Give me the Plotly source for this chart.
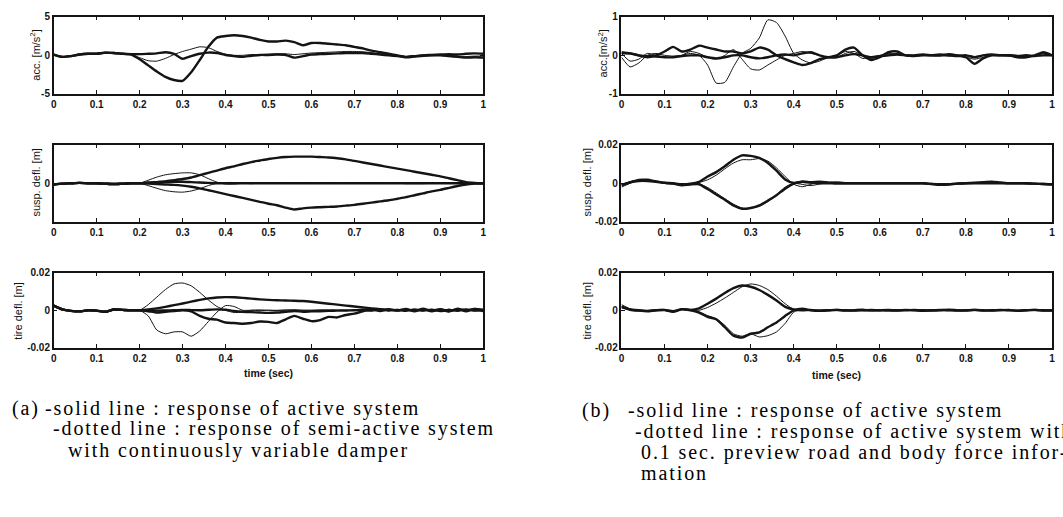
import plotly.graph_objects as go

W, H = 1063, 517

# time grid (s)
t = [round(i * 0.02, 2) for i in range(51)]

# ---------------- (a) left column ----------------
# body acceleration [m/s^2]
acc_a_semi = [0.1, -0.2, -0.1, 0.1, 0.2, 0.2, 0.35, 0.3, 0.2, 0.1,
              -0.5, -1.3, -2.1, -2.8, -3.2, -3.3, -2.2, -0.6, 1.1, 2.3,
              2.5, 2.6, 2.5, 2.3, 2.0, 1.8, 1.8, 1.9, 1.7, 1.3,
              1.6, 1.6, 1.5, 1.4, 1.3, 1.1, 0.9, 0.6, 0.4, 0.2,
              0.0, -0.25, -0.15, -0.05, 0.0, 0.0, -0.1, -0.2, -0.3, -0.25, -0.3]
acc_a_act = [0.1, -0.2, -0.1, 0.1, 0.2, 0.2, 0.35, 0.3, 0.2, 0.15,
             0.15, 0.2, 0.25, 0.4, 0.2, -0.45, -0.1, 0.2, 0.35, 0.3,
             0.05, -0.1, -0.2, -0.05, 0.05, 0.05, 0.1, 0.05, -0.3, -0.1,
             0.1, 0.15, 0.2, 0.25, 0.3, 0.3, 0.3, 0.2, 0.1, 0.0,
             -0.1, -0.2, -0.1, 0.0, 0.05, 0.1, 0.15, 0.1, 0.2, 0.25, 0.2]
acc_a_thin = [0.1, -0.2, -0.1, 0.1, 0.2, 0.2, 0.35, 0.3, 0.2, 0.1,
              -0.3, -0.7, -0.75, -0.4, 0.1, 0.5, 0.8, 1.1, 1.0, 0.5,
              0.15, 0.0, 0.0, 0.1, 0.1, 0.15, 0.2, 0.2, 0.1, 0.2,
              0.3, 0.35, 0.4, 0.45, 0.5, 0.5, 0.45, 0.35, 0.2, 0.1,
              0.0, -0.15, -0.05, 0.05, 0.1, 0.1, 0.0, -0.1, -0.15, -0.1, -0.1]

# suspension deflection [m]
susp_a_up = [-0.003, -0.001, 0.0, 0.001, 0.0, 0.0, -0.001, -0.002, -0.001, 0.0,
             0.0, 0.001, 0.003, 0.005, 0.008, 0.011, 0.015, 0.021, 0.027, 0.033,
             0.039, 0.044, 0.050, 0.055, 0.059, 0.063, 0.066, 0.068, 0.069, 0.069,
             0.069, 0.068, 0.067, 0.065, 0.062, 0.058, 0.054, 0.050, 0.046, 0.042,
             0.038, 0.034, 0.030, 0.026, 0.022, 0.018, 0.013, 0.008, 0.003, 0.001, 0.0]
susp_a_lo = [-0.003, -0.001, 0.0, 0.001, 0.0, 0.0, -0.001, -0.002, -0.001, 0.0,
             0.0, -0.001, -0.002, -0.003, -0.004, -0.006, -0.009, -0.013, -0.018, -0.023,
             -0.028, -0.033, -0.038, -0.043, -0.048, -0.053, -0.057, -0.063, -0.068, -0.065,
             -0.063, -0.062, -0.061, -0.060, -0.058, -0.056, -0.053, -0.050, -0.047, -0.044,
             -0.040, -0.036, -0.031, -0.026, -0.021, -0.017, -0.012, -0.007, -0.003, -0.001, 0.0]
susp_a_mid = [-0.003, -0.001, 0.0, 0.001, 0.0, 0.0, -0.001, -0.002, -0.001, 0.0,
              0.0, 0.002, 0.003, 0.004, 0.004, 0.004, 0.003, 0.002, 0.001, 0.0,
              0.0, 0.0, 0.0, 0.0, 0.0, 0.0, 0.0, 0.0, 0.0, 0.0,
              0.0, 0.0, 0.0, 0.0, 0.0, 0.0, 0.0, 0.0, 0.0, 0.0,
              0.0, 0.0, 0.0, 0.0, 0.0, 0.0, 0.0, 0.0, 0.0, 0.0, 0.0]
susp_a_thin_up = [-0.003, -0.001, 0.0, 0.001, 0.0, 0.0, -0.001, -0.002, -0.001, 0.0,
                  0.0, 0.008, 0.016, 0.022, 0.025, 0.027, 0.027, 0.022, 0.012, 0.003,
                  -0.002, -0.002, 0.0, 0.001, 0.0, 0.0, 0.0, 0.0, 0.0, 0.0,
                  0.0, 0.0, 0.0, 0.0, 0.0, 0.0, 0.0, 0.0, 0.0, 0.0,
                  0.0, 0.001, 0.002, 0.002, 0.001, 0.0, 0.0, 0.0, 0.0, 0.0, 0.0]
susp_a_thin_lo = [-0.003, -0.001, 0.0, 0.001, 0.0, 0.0, -0.001, -0.002, -0.001, 0.0,
                  0.0, -0.006, -0.013, -0.019, -0.022, -0.023, -0.020, -0.014, -0.006, 0.0,
                  0.002, 0.002, 0.0, -0.001, 0.0, 0.0, 0.0, 0.0, 0.0, 0.0,
                  0.0, 0.0, 0.0, 0.0, 0.0, 0.0, 0.0, 0.0, 0.0, 0.0,
                  0.0, -0.001, -0.001, -0.001, 0.0, 0.0, 0.0, 0.0, 0.0, 0.0, 0.0]

# tire deflection [m]
tire_a_thin_up = [0.0025, 0.0005, -0.0003, -0.0006, 0.0, -0.0002, -0.0008, 0.0004, 0.0002, 0.0,
                  0.0, 0.003, 0.007, 0.011, 0.014, 0.0145, 0.013, 0.0095, 0.0055, 0.002,
                  0.0, -0.0012, -0.001, 0.0, 0.0002, 0.0, -0.0002, 0.0, 0.0003, 0.0,
                  0.0, 0.0002, 0.0, 0.0, -0.0002, 0.0, 0.0003, 0.0, 0.0004, -0.0003,
                  0.0005, -0.0002, 0.0004, -0.0004, 0.0005, -0.0003, 0.0006, -0.0004, 0.0005, -0.0003, 0.0004]
tire_a_thin_lo = [0.0025, 0.0005, -0.0003, -0.0006, 0.0, -0.0002, -0.0008, 0.0004, 0.0002, 0.0,
                  0.0, -0.003, -0.0105, -0.0125, -0.0115, -0.0115, -0.0138, -0.011, -0.006, -0.001,
                  0.0025, 0.002, 0.0, 0.0, -0.0002, 0.0, 0.0, 0.0002, 0.0, 0.0,
                  0.0, 0.0, 0.0002, 0.0, 0.0, 0.0, 0.0, -0.0003, 0.0003, 0.0,
                  -0.0004, 0.0003, -0.0002, 0.0005, -0.0004, 0.0003, -0.0005, 0.0004, -0.0003, 0.0005, -0.0002]
tire_a_act = [0.0025, 0.0005, -0.0003, -0.0006, 0.0, -0.0002, -0.0008, 0.0004, 0.0002, 0.0,
              0.0, 0.0005, 0.001, 0.0018, 0.0027, 0.0036, 0.0046, 0.0055, 0.0063, 0.0068,
              0.007, 0.0069, 0.0066, 0.0062, 0.0058, 0.0055, 0.0053, 0.0052, 0.0051, 0.0049,
              0.0045, 0.004, 0.0035, 0.003, 0.0025, 0.002, 0.0015, 0.001, 0.0006, 0.0003,
              0.0, 0.0004, -0.0003, 0.0005, -0.0002, 0.0006, -0.0004, 0.0005, 0.0, 0.0007, 0.0003]
tire_a_semi = [0.0025, 0.0005, -0.0003, -0.0006, 0.0, -0.0002, -0.0008, 0.0004, 0.0002, 0.0,
               0.0, -0.0005, -0.0012, -0.0008, -0.0004, 0.0, -0.0006, -0.003, -0.0045, -0.005,
               -0.0065, -0.0068, -0.0072, -0.0068, -0.006, -0.0062, -0.0068, -0.0048, -0.003, -0.0045,
               -0.0058, -0.0052, -0.0035, -0.0038, -0.0025, -0.0018, -0.0005, 0.0005, -0.0004, 0.0006,
               -0.0002, 0.0007, -0.0005, 0.0008, -0.0006, 0.0004, -0.0007, 0.0008, -0.0006, 0.0007, -0.0005]
tire_a_mid = [0.0025, 0.0005, -0.0003, -0.0006, 0.0, -0.0002, -0.0008, 0.0004, 0.0002, 0.0,
              0.0, -0.0001, -0.0002, -0.0001, 0.0, 0.0002, 0.0001, 0.0, 0.0003, 0.0005,
              0.0003, -0.0004, -0.0008, -0.001, -0.0012, -0.0014, -0.0012, -0.0008, -0.0004, -0.0008,
              -0.0006, -0.0005, -0.0003, -0.0002, -0.0001, 0.0, 0.0002, -0.0002, 0.0003, -0.0001,
              0.0002, -0.0003, 0.0004, -0.0002, 0.0003, -0.0004, 0.0002, -0.0003, 0.0004, -0.0002, 0.0001]

# ---------------- (b) right column ----------------
acc_b_1 = [-0.05, -0.3, -0.2, 0.0, 0.05, 0.0, -0.02, 0.0, 0.05, 0.0,
           -0.25, -0.72, -0.7, -0.3, 0.05, 0.18, 0.45, 0.92, 0.85, 0.5,
           0.05, -0.12, -0.2, -0.15, -0.05, 0.0, 0.1, 0.05, -0.08, -0.05,
           0.0, 0.05, 0.02, 0.0, 0.0, 0.02, 0.0, -0.02, 0.0, 0.0,
           -0.05, -0.1, -0.05, 0.0, 0.0, 0.02, 0.0, -0.03, 0.0, 0.05, 0.0]
acc_b_2 = [0.05, -0.15, -0.1, 0.05, 0.0, -0.05, -0.05, 0.0, 0.1, 0.05,
           -0.05, -0.1, 0.0, 0.15, -0.1, -0.35, -0.38, -0.25, -0.12, 0.0,
           0.05, 0.1, 0.05, 0.0, -0.05, -0.05, 0.05, 0.1, 0.0, -0.08,
           -0.03, 0.02, 0.05, 0.0, -0.02, 0.0, 0.02, 0.0, -0.02, 0.0,
           0.0, -0.03, 0.0, 0.02, 0.0, -0.02, -0.04, -0.02, 0.0, 0.04, 0.02]
acc_b_3 = [0.05, 0.05, 0.0, -0.05, 0.0, 0.1, 0.22, 0.1, 0.15, 0.25,
           0.2, 0.15, 0.1, 0.1, 0.05, 0.1, 0.2, 0.15, 0.0, -0.1,
           -0.18, -0.25, -0.2, -0.1, -0.05, 0.0, 0.15, 0.2, 0.0, -0.12,
           -0.05, 0.08, 0.1, 0.0, 0.0, 0.02, 0.0, 0.0, 0.03, 0.0,
           -0.05, -0.22, -0.08, 0.0, 0.0, 0.0, -0.05, -0.05, 0.0, 0.08, 0.0]
acc_b_4 = [0.08, 0.05, 0.0, -0.02, -0.03, -0.05, -0.05, -0.02, 0.0, 0.0,
           -0.05, -0.08, -0.05, 0.0, 0.0, -0.05, -0.08, -0.05, 0.0, 0.02,
           0.0, 0.05, 0.08, 0.0, -0.05, -0.05, 0.0, 0.03, 0.0, -0.05,
           -0.02, 0.0, 0.02, 0.0, -0.02, 0.0, 0.0, 0.02, 0.0, -0.02,
           0.0, -0.05, 0.0, 0.02, 0.0, 0.0, -0.02, 0.0, -0.02, 0.0, 0.0]

susp_b_1 = [-0.001, 0.0005, 0.0018, 0.0018, 0.001, 0.0003, 0.0, -0.0005, -0.0002, 0.0008,
            0.0035, 0.0058, 0.0088, 0.0122, 0.0145, 0.0142, 0.0132, 0.0105, 0.0065, 0.002,
            0.0002, 0.0008, 0.0005, 0.0008, 0.0005, 0.0, 0.0, 0.0, 0.0, 0.0,
            0.0, 0.0, 0.0, 0.0, 0.0, 0.0, -0.0003, -0.0005, -0.0005, -0.0002,
            0.0, 0.0003, 0.0006, 0.0008, 0.0004, 0.0, 0.0, 0.0, -0.0002, -0.0004, -0.0005]
susp_b_2 = [-0.002, 0.0, 0.0015, 0.0012, 0.0008, 0.0002, -0.0002, -0.0008, -0.0004, 0.0004,
            0.0018, 0.0042, 0.0075, 0.0105, 0.0122, 0.0122, 0.0128, 0.0115, 0.008, 0.0035,
            -0.0005, -0.0018, -0.0005, 0.0005, 0.0002, 0.0, 0.0, 0.0, 0.0, 0.0,
            0.0, 0.0, 0.0, 0.0, 0.0, 0.0, -0.0002, -0.0004, -0.0003, 0.0,
            0.0, 0.0002, 0.0004, 0.0005, 0.0002, 0.0, 0.0, -0.0002, -0.0003, -0.0005, -0.0006]
susp_b_3 = [-0.001, 0.0005, 0.0012, 0.0012, 0.0008, 0.0002, -0.0002, -0.001, -0.0006, -0.0005,
            -0.003, -0.0058, -0.0085, -0.0115, -0.0132, -0.0128, -0.0115, -0.009, -0.0062, -0.0028,
            -0.0002, 0.0008, 0.0004, 0.0, 0.0, 0.0, 0.0, 0.0, 0.0, 0.0,
            0.0, 0.0, 0.0, 0.0, 0.0, 0.0, -0.0004, -0.0008, -0.0006, -0.0002,
            0.0, 0.0, 0.0, 0.0, 0.0, 0.0, 0.0, 0.0, -0.0002, -0.0004, -0.0006]
susp_b_4 = [-0.0005, 0.0008, 0.0015, 0.0015, 0.0009, 0.0004, 0.0, -0.0006, -0.0004, -0.0002,
            -0.0022, -0.005, -0.008, -0.0108, -0.0128, -0.013, -0.012, -0.0095, -0.0058, -0.002,
            0.0, -0.0006, -0.0012, -0.0004, 0.0004, 0.0008, 0.0004, 0.0, 0.0, 0.0,
            0.0, 0.0, 0.0, 0.0, 0.0, 0.0, -0.0002, -0.0004, -0.0004, 0.0,
            0.0, 0.0003, 0.0005, 0.0003, 0.0, 0.0, 0.0, -0.0002, -0.0002, -0.0004, -0.0005]

tire_b_1 = [0.002, 0.0005, 0.0, -0.0003, 0.0, 0.0002, -0.0005, 0.0006, 0.0002, 0.001,
            0.0035, 0.0062, 0.0092, 0.0118, 0.0132, 0.0125, 0.0108, 0.0082, 0.0052, 0.0018,
            0.0004, 0.0, 0.0002, -0.0003, 0.0, 0.0002, -0.0002, 0.0, 0.0003, -0.0002,
            0.0, 0.0002, -0.0002, 0.0, 0.0002, 0.0, -0.0002, 0.0, 0.0003, 0.0,
            -0.0002, 0.0002, 0.0, -0.0002, 0.0, 0.0002, -0.0003, 0.0, 0.0002, 0.0, -0.0002]
tire_b_2 = [0.003, 0.0008, -0.0002, -0.0004, 0.0002, 0.0, -0.0006, 0.0004, 0.0003, 0.0,
            0.0015, 0.0038, 0.0065, 0.0095, 0.0125, 0.014, 0.0132, 0.011, 0.0075, 0.0035,
            0.0005, 0.0, -0.0002, 0.0002, 0.0, -0.0002, 0.0, 0.0002, 0.0, 0.0,
            -0.0002, 0.0, 0.0002, 0.0, -0.0002, 0.0, 0.0002, 0.0, -0.0002, 0.0,
            0.0002, 0.0, -0.0002, 0.0, 0.0002, 0.0, -0.0002, 0.0002, 0.0, -0.0002, 0.0]
tire_b_3 = [0.0015, 0.0003, -0.0002, -0.0005, 0.0, 0.0001, -0.0008, 0.0005, 0.0, -0.0012,
            -0.0035, -0.0048, -0.009, -0.0135, -0.0145, -0.0125, -0.0118, -0.009, -0.0065, -0.003,
            0.0, 0.0008, 0.0, -0.0003, 0.0, 0.0002, 0.0, -0.0002, 0.0, 0.0002,
            0.0, -0.0002, 0.0, 0.0002, 0.0, -0.0003, 0.0, 0.0002, 0.0, -0.0002,
            0.0, 0.0002, -0.0002, 0.0, 0.0002, 0.0, -0.0002, 0.0, 0.0002, -0.0002, 0.0]
tire_b_4 = [0.002, 0.0004, 0.0, -0.0004, 0.0001, 0.0, -0.0006, 0.0004, 0.0001, -0.0008,
            -0.0028, -0.0045, -0.008, -0.0125, -0.0138, -0.0125, -0.0142, -0.0135, -0.0115, -0.007,
            -0.001, 0.0005, 0.0, -0.0002, 0.0, 0.0, 0.0002, 0.0, -0.0002, 0.0,
            0.0002, 0.0, -0.0002, 0.0, 0.0, 0.0002, 0.0, -0.0002, 0.0, 0.0002,
            0.0, -0.0002, 0.0, 0.0002, 0.0, -0.0002, 0.0, 0.0, -0.0002, 0.0, 0.0002]

x_ticks = [0, 0.1, 0.2, 0.3, 0.4, 0.5, 0.6, 0.7, 0.8, 0.9, 1]
x_ticktext = ["0", "0.1", "0.2", "0.3", "0.4", "0.5", "0.6", "0.7", "0.8", "0.9", "1"]

THICK, THIN = 2.4, 1.0
INK = "#141414"

panels = [
    (0, 0, [(acc_a_act, THICK), (acc_a_thin, THIN), (acc_a_semi, THICK)], [-5, 5], [-5, 0, 5], ["-5", "0", "5"]),
    (0, 1, [(susp_a_mid, THICK), (susp_a_thin_up, THIN), (susp_a_thin_lo, THIN), (susp_a_up, THICK), (susp_a_lo, THICK)],
     [-0.1, 0.1], [0], ["0"]),
    (0, 2, [(tire_a_mid, THICK), (tire_a_thin_up, THIN), (tire_a_thin_lo, THIN), (tire_a_act, THICK), (tire_a_semi, THICK)],
     [-0.02, 0.02], [-0.02, 0, 0.02], ["-0.02", "0", "0.02"]),
    (1, 0, [(acc_b_1, THIN), (acc_b_2, THIN), (acc_b_3, THICK), (acc_b_4, THICK)], [-1, 1], [-1, 0, 1], ["-1", "0", "1"]),
    (1, 1, [(susp_b_2, THIN), (susp_b_4, THIN), (susp_b_1, THICK), (susp_b_3, THICK)],
     [-0.02, 0.02], [-0.02, 0, 0.02], ["-0.02", "0", "0.02"]),
    (1, 2, [(tire_b_2, THIN), (tire_b_4, THIN), (tire_b_1, THICK), (tire_b_3, THICK)],
     [-0.02, 0.02], [-0.02, 0, 0.02], ["-0.02", "0", "0.02"]),
]

x_px = [(51, 483), (622, 1055)]
y_px = [(11, 90), (142, 221), (273, 350)]

fig = go.Figure()
layout = dict(
    width=W, height=H, margin=dict(l=0, r=0, t=0, b=0),
    paper_bgcolor="white", plot_bgcolor="white", showlegend=False,
)
tickfont = dict(family="Arial, Liberation Sans", size=10, color=INK, weight="bold")

for i, (col, row, series, yr, yt, ytt) in enumerate(panels):
    n = i + 1
    xa = "x" if n == 1 else f"x{n}"
    ya = "y" if n == 1 else f"y{n}"
    for y, w in series:
        fig.add_trace(go.Scatter(x=t, y=y, mode="lines", xaxis=xa, yaxis=ya,
                                 line=dict(color=INK, width=w, shape="spline", smoothing=0.6),
                                 hoverinfo="skip"))
    x0, x1 = x_px[col]
    y0, y1 = y_px[row]
    common = dict(showline=True, linecolor=INK, linewidth=1.5, mirror="ticks",
                  ticks="inside", ticklen=4, tickwidth=1, tickcolor=INK,
                  showgrid=False, zeroline=False, tickfont=tickfont)
    layout["xaxis" if n == 1 else f"xaxis{n}"] = dict(
        domain=[x0 / W, x1 / W], range=[0, 1], anchor=ya,
        tickmode="array", tickvals=x_ticks, ticktext=x_ticktext, **common)
    layout["yaxis" if n == 1 else f"yaxis{n}"] = dict(
        domain=[1 - y1 / H, 1 - y0 / H], range=yr, anchor=xa,
        tickmode="array", tickvals=yt, ticktext=ytt, **common)

fig.update_layout(**layout)

def ann(text, px, py, size, family, angle=0, xanchor="center", weight="normal", color=INK):
    fig.add_annotation(text=text, x=px / W, y=1 - py / H, xref="paper", yref="paper",
                       showarrow=False, textangle=angle, xanchor=xanchor, yanchor="middle",
                       font=dict(family=family, size=size, color=color, weight=weight))

sans = "Arial, Liberation Sans"
ytitles = [
    ("acc. [m/s<sup>2</sup>]", 32, 50),
    ("susp. defl. [m]", 33, 181),
    ("tire defl. [m]", 15, 312),
    ("acc.[m/s<sup>2</sup>]", 603, 49),
    ("susp. defl. [m]", 587, 181),
    ("tire defl. [m]", 587, 312),
]
for txt, px, py in ytitles:
    ann(txt, px, py, 11, sans, angle=-90)
ann("time (sec)", 267, 376, 10.5, sans, weight="bold")
ann("time (sec)", 838, 378, 10.5, sans, weight="bold")

serif = "Liberation Serif, Times New Roman"
cap = 20

def cap_text(s):
    return '<span style="letter-spacing:1.9px">' + s + '</span>'

CAP_INK = "#000000"
ann(cap_text("(a)"), 7, 412, cap, serif, xanchor="left", color=CAP_INK)
ann(cap_text("-solid line : response of active system"), 40, 412, cap, serif, xanchor="left", color=CAP_INK)
ann(cap_text("-dotted line : response of semi-active system"), 48, 433, cap, serif, xanchor="left", color=CAP_INK)
ann(cap_text("with continuously variable damper"), 63, 455, cap, serif, xanchor="left", color=CAP_INK)
ann(cap_text("(b)"), 580, 414, cap, serif, xanchor="left", color=CAP_INK)
ann(cap_text("-solid line : response of active system"), 627, 414, cap, serif, xanchor="left", color=CAP_INK)
ann(cap_text("-dotted line : response of active system with"), 634, 436, cap, serif, xanchor="left", color=CAP_INK)
ann(cap_text("0.1 sec. preview road and body force infor-"), 640, 457, cap, serif, xanchor="left", color=CAP_INK)
ann(cap_text("mation"), 640, 478, cap, serif, xanchor="left", color=CAP_INK)

fig.write_html("out.html")
